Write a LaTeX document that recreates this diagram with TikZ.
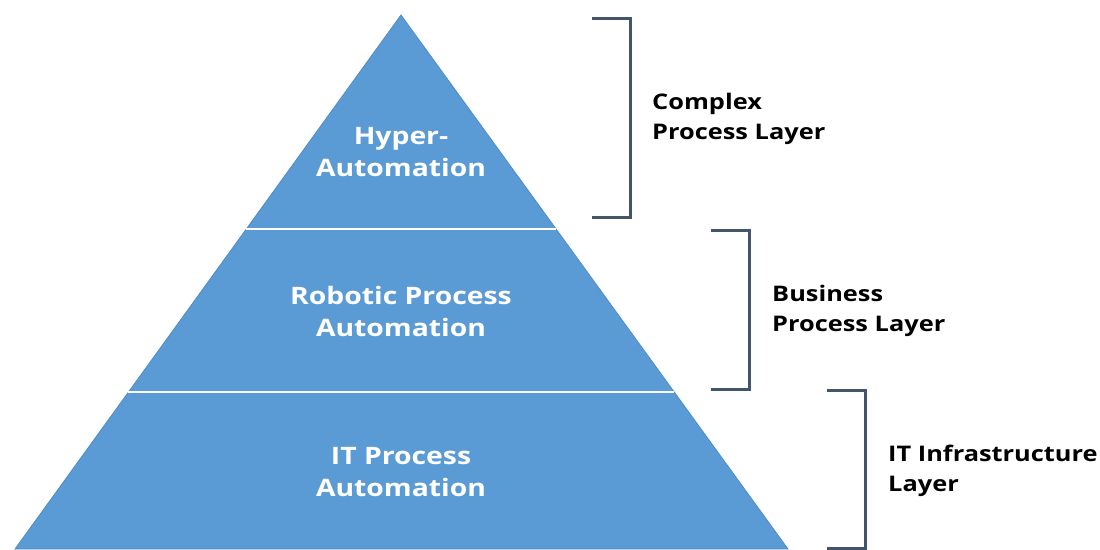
\documentclass[tikz,border=0pt]{standalone}
\usepackage{fontspec}
\newfontfamily\layerfont{Open Sans}[FakeStretch=1.18]
\usetikzlibrary{positioning,calc}
\definecolor{pyrblue}{HTML}{5B9BD5}
\definecolor{pyredge}{HTML}{4F8CC4}
\definecolor{brackslate}{HTML}{44546A}

\begin{document}
\begin{tikzpicture}[x=1pt,y=-1pt,
      tier/.style={text=white, align=center, inner sep=0pt,
                   font=\layerfont\bfseries\fontsize{24}{32}\selectfont},
      layer/.style={text=black, align=left, inner sep=0pt, anchor=west,
                   font=\layerfont\bfseries\fontsize{21.5}{30}\selectfont},
      brack/.style={draw=brackslate, line width=3pt, line cap=butt},
      cut/.style={draw=white, line width=2.6pt}]
    \useasboundingbox (0,0) rectangle (1100,549);
    % pyramid
    \coordinate (apex) at (401,15);
    \coordinate (bl) at (15,549);
    \coordinate (br) at (788,549);
    \fill[pyrblue, draw=pyredge, line width=0.8pt] (apex) -- (br) -- (bl) -- cycle;
    \draw[cut] ($(apex)!0.4007!(bl)$) -- ($(apex)!0.4007!(br)$);
    \draw[cut] ($(apex)!0.7060!(bl)$) -- ($(apex)!0.7060!(br)$);
    % tier labels
    \node[tier] (hyper) at (401,152) {Hyper-\\Automation};
    \node[tier] (rpa)   at (401,311) {Robotic Process\\Automation};
    \node[tier] (itpa)  at (401,472) {IT Process\\Automation};
    % brackets
    \draw[brack] (592,18)  -- (630,18)  -- (630,217) -- (592,217);
    \draw[brack] (711,230) -- (749,230) -- (749,389) -- (711,389);
    \draw[brack] (827,390) -- (865,390) -- (865,548) -- (827,548);
    % layer labels
    \node[layer] (complex) at (652,119) {Complex\\Process Layer};
    \node[layer] (business) at (772,311) {Business\\Process Layer};
    \node[layer] (infra) at (888,471) {IT Infrastructure\\Layer};
  \end{tikzpicture}
\end{document}
